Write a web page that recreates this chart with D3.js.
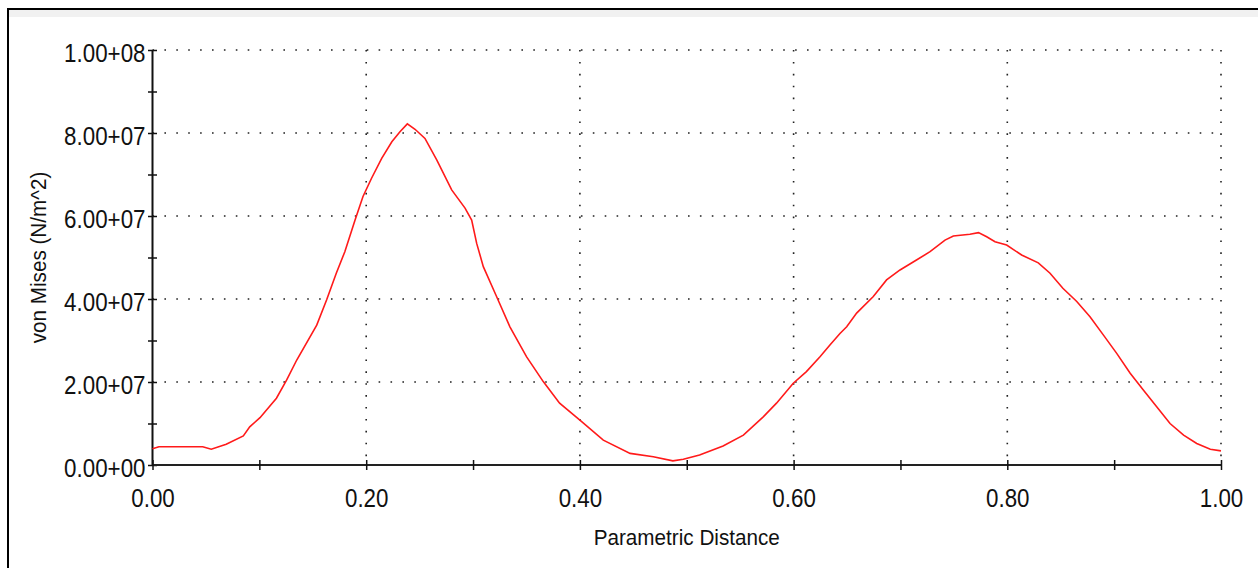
<!DOCTYPE html>
<html lang="en">
<head>
  <meta charset="UTF-8">
  <title>von Mises</title>
  <script src="https://cdn.jsdelivr.net/npm/d3@7"></script>
  <style>
    body { margin: 0; background: #fff; }
    text { font-family: "Liberation Sans", Arial, sans-serif; fill: #111; }
  </style>
</head>
<body>
<script>
  // parametric distance along the path
  const distance = [0, 0.006, 0.047, 0.055, 0.069, 0.085, 0.091, 0.1006, 0.116, 0.1256,
    0.135, 0.1537, 0.163, 0.172, 0.180, 0.1895, 0.197, 0.205, 0.2145, 0.224,
    0.2316, 0.2385, 0.2457, 0.255, 0.266, 0.280, 0.2925, 0.2987, 0.3034, 0.3096,
    0.322, 0.3345, 0.350, 0.3657, 0.381, 0.400, 0.4219, 0.447, 0.4687, 0.487,
    0.4968, 0.512, 0.534, 0.553, 0.5716, 0.584, 0.5997, 0.612, 0.6247, 0.634,
    0.6434, 0.6497, 0.659, 0.6746, 0.687, 0.6996, 0.715, 0.7277, 0.7417, 0.7495,
    0.765, 0.773, 0.7807, 0.7885, 0.7994, 0.8134, 0.829, 0.840, 0.852, 0.865,
    0.8774, 0.890, 0.9024, 0.915, 0.9273, 0.940, 0.9523, 0.965, 0.9773, 0.990, 1.0]
  // von Mises stress (N/m^2)
  const stress = [3.9e6, 4.4e6, 4.4e6, 3.8e6, 5.0e6, 7.0e6, 9.2e6, 11.4e6, 16.1e6, 20.5e6,
    25.3e6, 33.7e6, 39.8e6, 46.2e6, 51.4e6, 59.0e6, 64.7e6, 69.1e6, 73.9e6, 77.9e6,
    80.3e6, 82.2e6, 80.9e6, 78.7e6, 73.5e6, 66.3e6, 61.9e6, 59.0e6, 53.4e6, 47.8e6,
    40.6e6, 33.3e6, 26.1e6, 20.1e6, 14.9e6, 10.8e6, 6.0e6, 2.8e6, 2.0e6, 1.0e6,
    1.4e6, 2.4e6, 4.6e6, 7.2e6, 11.6e6, 14.9e6, 19.7e6, 22.5e6, 26.1e6, 28.9e6,
    31.7e6, 33.3e6, 36.6e6, 40.6e6, 44.6e6, 47.0e6, 49.4e6, 51.4e6, 54.2e6, 55.2e6,
    55.6e6, 56.0e6, 55.0e6, 53.8e6, 53.0e6, 50.6e6, 48.7e6, 46.2e6, 42.6e6, 39.4e6,
    35.7e6, 31.3e6, 26.9e6, 22.1e6, 18.1e6, 14.0e6, 10.0e6, 7.2e6, 5.2e6, 3.8e6, 3.4e6]

  const xTicks = d3.range(0, 1.0001, 0.1)
  const yTicks = d3.range(0, 1e8 + 1, 1e7)

  const W = 1258, H = 568
  const svg = d3.select('body').append('svg')
    .attr('width', W).attr('height', H)

  // window frame
  svg.append('rect').attr('x', 8).attr('y', 10).attr('width', W - 8).attr('height', 7)
    .attr('fill', '#f1f1f1')
  svg.append('line').attr('x1', 7).attr('x2', W).attr('y1', 9).attr('y2', 9)
    .attr('stroke', '#000').attr('stroke-width', 2)
  svg.append('line').attr('x1', 8).attr('x2', 8).attr('y1', 8).attr('y2', H)
    .attr('stroke', '#000').attr('stroke-width', 2)

  const x = d3.scaleLinear().domain([0, 1]).range([152.5, 1221])
  const y = d3.scaleLinear().domain([0, 1e8]).range([465, 50])

  const sci = v => {
    if (v === 0) return '0.00+00'
    const e = Math.floor(Math.log10(v) + 1e-9)
    return (v / Math.pow(10, e)).toFixed(2) + '+' + String(e).padStart(2, '0')
  }
  const isMajor = (v, step) => Math.abs(v / step - Math.round(v / step)) < 1e-6

  // dotted grid
  const grid = svg.append('g').attr('stroke', '#222').attr('stroke-width', 1.6)
    .attr('stroke-dasharray', '1.6 10.3')
  grid.selectAll('.hg').data(yTicks.filter(v => v > 0 && isMajor(v, 2e7)))
    .enter().append('line')
    .attr('x1', x(0)).attr('x2', x(1)).attr('y1', d => y(d)).attr('y2', d => y(d))
  grid.selectAll('.vg').data(xTicks.filter(v => v > 0.01 && isMajor(v, 0.2)))
    .enter().append('line')
    .attr('x1', d => x(d)).attr('x2', d => x(d)).attr('y1', y(1e8)).attr('y2', y(0))

  // axes
  const yAxis = svg.append('g').attr('transform', `translate(${x(0)},0)`)
    .call(d3.axisLeft(y).tickValues(yTicks).tickSize(4.5).tickPadding(0)
      .tickFormat(v => isMajor(v, 2e7) ? sci(v) : ''))
  yAxis.select('.domain').attr('d', `M0,${y(1e8)}V${y(0)}`).attr('stroke', '#111').attr('stroke-width', 2)
  yAxis.selectAll('.tick line').attr('x1', 4.5).attr('stroke', '#111').attr('stroke-width', 1.5)
  yAxis.selectAll('.tick text')
    .attr('font-size', 26).attr('dy', null).attr('y', 11)
    .attr('x', -7 / 0.86).attr('transform', 'scale(0.86,1)')
    .attr('font-family', '"Liberation Sans", Arial, sans-serif').attr('fill', '#111')

  const xAxis = svg.append('g').attr('transform', `translate(0,${y(0)})`)
    .call(d3.axisBottom(x).tickValues(xTicks).tickSize(5).tickPadding(0)
      .tickFormat(v => isMajor(v, 0.2) ? d3.format('.2f')(v) : ''))
  xAxis.select('.domain').attr('d', `M${x(0)},0H${x(1)}`).attr('stroke', '#222').attr('stroke-width', 2)
  xAxis.selectAll('.tick line').attr('y1', -5).attr('stroke', '#111').attr('stroke-width', 1.5)
  xAxis.selectAll('.tick text')
    .attr('font-size', 26).attr('dy', null).attr('y', 42)
    .attr('transform', 'scale(0.86,1)')
    .attr('font-family', '"Liberation Sans", Arial, sans-serif').attr('fill', '#111')

  // axis titles
  svg.append('text')
    .attr('transform', `translate(${(x(0) + x(1)) / 2},545) scale(0.94,1)`)
    .attr('text-anchor', 'middle').attr('font-size', 22)
    .text('Parametric Distance')
  svg.append('text')
    .attr('transform', `translate(46,${(y(0) + y(1e8)) / 2}) rotate(-90) scale(0.94,1)`)
    .attr('text-anchor', 'middle').attr('font-size', 22)
    .text('von Mises (N/m^2)')

  // curve
  const line = d3.line().x(d => x(d[0])).y(d => y(d[1]))
  svg.append('path')
    .datum(distance.map((d, i) => [d, stress[i]]))
    .attr('d', line)
    .attr('fill', 'none').attr('stroke', '#ff1a1a').attr('stroke-width', 1.6)
</script>
</body>
</html>
